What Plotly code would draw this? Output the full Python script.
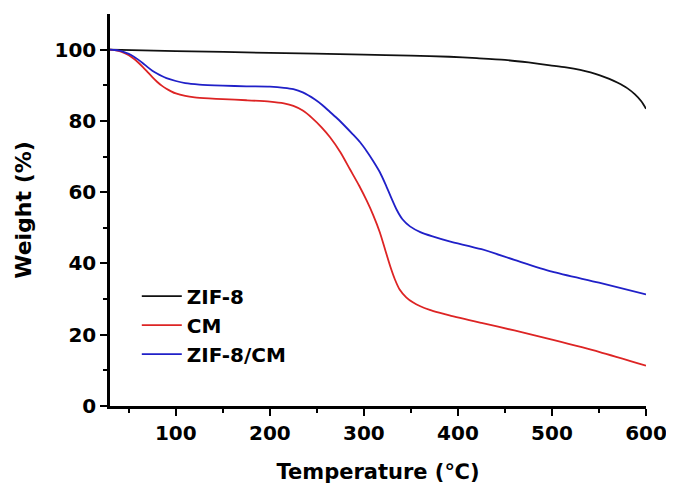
import plotly.graph_objects as go

# Data
zif8_T = [30, 100, 200, 300, 350, 391, 420, 450, 475, 498, 515, 530, 541, 551, 561,
          570, 580, 588, 595, 600]
zif8_W = [100, 99.6, 99.1, 98.6, 98.3, 98.0, 97.6, 97.1, 96.4, 95.6, 95.0, 94.3, 93.6,
          92.8, 91.8, 90.7, 89.2, 87.5, 85.5, 83.4]

cm_T = [30, 35, 40, 45, 50, 55, 60, 65, 70, 75, 80, 85, 90, 95, 100, 110, 120, 135, 150,
        175, 200, 215, 225, 235, 245, 255, 264, 275, 285, 295, 303, 310, 317, 323, 328,
        333, 338, 345, 352, 360, 370, 380, 391, 425, 460, 500, 550, 600]
cm_W = [100, 99.9, 99.6, 99.1, 98.4, 97.5, 96.4, 95.1, 93.7, 92.3, 91.0, 89.9, 89.0,
        88.3, 87.7, 87.0, 86.6, 86.3, 86.1, 85.8, 85.4, 84.9, 84.2, 82.9, 80.8, 78.2,
        75.4, 71.2, 66.5, 61.8, 57.6, 53.5, 48.7, 43.5, 39.2, 35.5, 32.7, 30.5, 29.1,
        28.0, 27.0, 26.2, 25.4, 23.3, 21.2, 18.6, 15.2, 11.3]

zcm_T = [30, 35, 40, 45, 50, 55, 60, 65, 70, 75, 80, 85, 90, 100, 110, 125, 150, 175,
         200, 215, 225, 235, 248, 256, 264, 272, 280, 288, 296, 303, 310, 317, 323, 329,
         335, 341, 349, 360, 373, 391, 425, 460, 500, 550, 600]
zcm_W = [100, 99.9, 99.7, 99.3, 98.8, 98.1, 97.2, 96.2, 95.1, 94.1, 93.3, 92.6, 92.0,
         91.2, 90.6, 90.2, 89.9, 89.7, 89.6, 89.3, 88.9, 88.0, 86.0, 84.4, 82.5, 80.6,
         78.5, 76.3, 74.0, 71.5, 68.7, 65.6, 62.2, 58.5, 55.0, 52.4, 50.4, 48.8, 47.6,
         46.2, 44.0, 41.0, 37.7, 34.6, 31.3]

x_ticks = [100, 200, 300, 400, 500, 600]
y_ticks = [0, 20, 40, 60, 80, 100]

FONT = "DejaVu Sans, Liberation Sans, Arial, sans-serif"

fig = go.Figure()
for name, xs, ys, col in [("ZIF-8", zif8_T, zif8_W, "#111111"),
                          ("CM", cm_T, cm_W, "#dd2424"),
                          ("ZIF-8/CM", zcm_T, zcm_W, "#2020c8")]:
    fig.add_trace(go.Scatter(x=xs, y=ys, mode="lines", name=name,
                             line=dict(color=col, width=1.8, shape="spline", smoothing=0.7)))

axis_common = dict(showline=True, linecolor="black", linewidth=2.5, ticks="outside",
                   tickwidth=2, ticklen=7, tickcolor="black", showgrid=False, zeroline=False,
                   mirror=False, automargin=False,
                   tickfont=dict(family=FONT, size=20, color="black", weight="bold"))

fig.update_xaxes(range=[30, 600], tickvals=x_ticks,
                 minor=dict(tickvals=[50, 150, 250, 350, 450, 550], ticks="outside",
                            ticklen=4, tickwidth=2, tickcolor="black"),
                 title=dict(text="Temperature (℃)", font=dict(family=FONT, size=21, color="black", weight="bold"),
                            standoff=21),
                 **axis_common)
fig.update_yaxes(range=[0, 110], tickvals=y_ticks,
                 minor=dict(tickvals=[10, 30, 50, 70, 90], ticks="outside",
                            ticklen=4, tickwidth=2, tickcolor="black"),
                 title=dict(text="Weight (%)", font=dict(family=FONT, size=22, color="black", weight="bold"),
                            standoff=17),
                 **axis_common)

# the page adds an 8px body margin, so margins are offset by 8px
fig.update_layout(
    width=674, height=489,
    margin=dict(l=102, r=36, t=6, b=91),
    plot_bgcolor="white", paper_bgcolor="white",
    legend=dict(x=0.05, y=0.33, xanchor="left", yanchor="top", bgcolor="rgba(0,0,0,0)",
                font=dict(family=FONT, size=20, color="black", weight="bold"),
                tracegroupgap=0, itemwidth=40),
    showlegend=True,
)

fig.write_html("out.html")
